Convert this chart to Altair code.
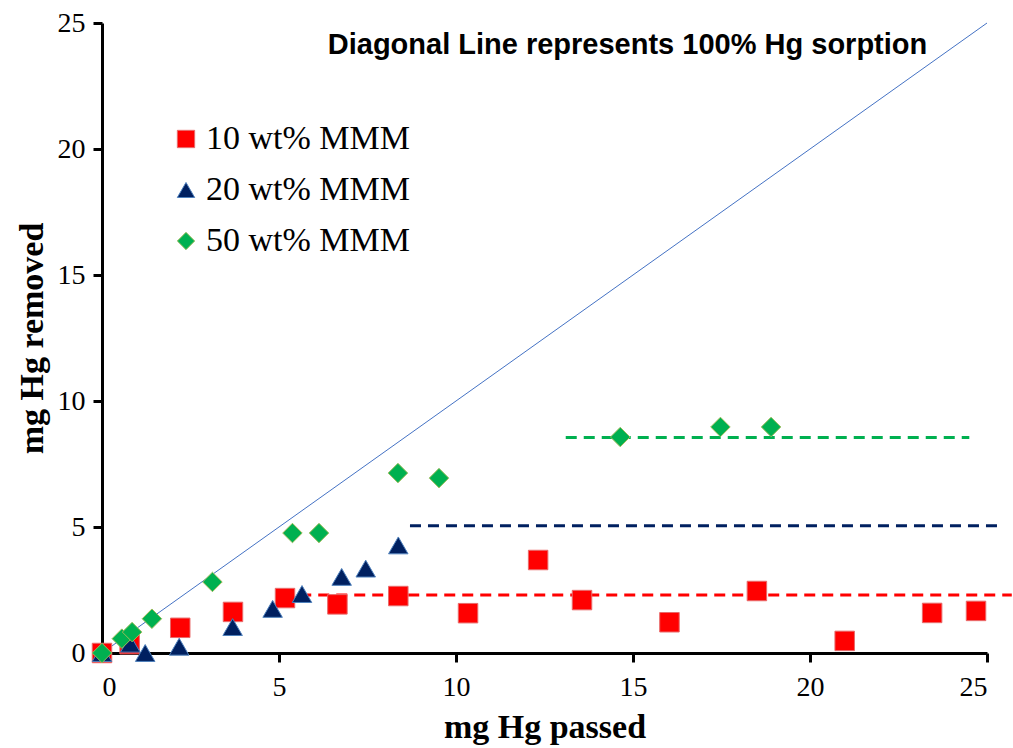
import altair as alt
import pandas as pd

series_names = ["10 wt% MMM", "20 wt% MMM", "50 wt% MMM"]
series_colors = ["#FF0000", "#002060", "#00B050"]
series_strokes = ["#E86B6B", "#4F81BD", "#9BBB59"]
series_shapes = ["square", "triangle-up", "diamond"]

s10_x = [0, 0.78, 2.21, 3.7, 5.17, 6.65, 8.37, 10.34, 12.32, 13.56, 16.03, 18.5, 20.98, 23.45, 24.69]
s10_y = [0, 0.35, 1.0, 1.63, 2.18, 1.93, 2.26, 1.58, 3.69, 2.10, 1.22, 2.46, 0.48, 1.59, 1.67]

s20_x = [0, 0.8, 1.22, 2.18, 3.69, 4.82, 5.65, 6.77, 7.45, 8.37]
s20_y = [0, 0.37, 0.0, 0.25, 1.03, 1.75, 2.34, 3.02, 3.35, 4.27]

s50_x = [0, 0.56, 0.85, 1.41, 3.12, 5.38, 6.13, 8.36, 9.52, 14.64, 17.47, 18.9]
s50_y = [0, 0.57, 0.83, 1.36, 2.82, 4.76, 4.76, 7.14, 6.94, 8.57, 8.97, 8.97]

level_y = [2.3, 5.05, 8.55]
level_x1 = [5.6, 8.7, 13.1]
level_x2 = [25.7, 25.3, 24.5]

diag_x = [0, 25]
diag_y = [0, 25]

tick_values = [0, 5, 10, 15, 20, 25]
note_text = "Diagonal Line represents 100% Hg sorption"

rows = []
for name, xs, ys in zip(series_names, [s10_x, s20_x, s50_x], [s10_y, s20_y, s50_y]):
    for a, b in zip(xs, ys):
        rows.append({"passed": a, "removed": b, "series": name})
pts = pd.DataFrame(rows)

levels = pd.DataFrame({"x1": level_x1, "x2": level_x2, "y": level_y, "series": series_names})
diag = pd.DataFrame({"x": diag_x, "y": diag_y})

xscale = alt.Scale(domain=[0, 25], nice=False)
yscale = alt.Scale(domain=[0, 25], nice=False)

axis_common = dict(
    values=tick_values, grid=False, domainColor="black", domainWidth=3,
    tickColor="black", tickWidth=3, tickSize=9,
    labelFont="Liberation Serif", labelFontSize=28, labelColor="black",
    titleFont="Liberation Serif", titleFontSize=34, titleFontWeight="bold", titleColor="black",
)

diag_line = alt.Chart(diag).mark_line(color="#4472C4", strokeWidth=1).encode(
    x=alt.X("x:Q", scale=xscale, title="mg Hg passed",
            axis=alt.Axis(labelPadding=11, titlePadding=9, **axis_common)),
    y=alt.Y("y:Q", scale=yscale, title="mg Hg removed",
            axis=alt.Axis(labelPadding=8, titlePadding=8, **axis_common)),
)

level_rules = alt.Chart(levels).mark_rule(strokeWidth=3, strokeDash=[11, 7]).encode(
    x="x1:Q", x2="x2:Q", y="y:Q",
    color=alt.Color("series:N", scale=alt.Scale(domain=series_names, range=series_colors), legend=None),
)

points = alt.Chart(pts).mark_point(filled=True, opacity=1, strokeWidth=1).encode(
    x="passed:Q",
    y="removed:Q",
    shape=alt.Shape("series:N", scale=alt.Scale(domain=series_names, range=series_shapes), title=None),
    fill=alt.Fill("series:N", scale=alt.Scale(domain=series_names, range=series_colors), title=None),
    stroke=alt.Stroke("series:N", scale=alt.Scale(domain=series_names, range=series_strokes), title=None),
    size=alt.value(380),
)

chart = alt.layer(diag_line, level_rules, points).resolve_scale(color="independent").properties(
    width=885, height=630,
    autosize=alt.AutoSizeParams(type="none"),
    padding={"left": 102, "top": 23, "right": 26, "bottom": 95},
    title=alt.TitleParams(text=note_text, font="Liberation Sans", fontSize=29, fontWeight="bold",
                          color="black", anchor="middle", frame="group", dx=83, offset=-51),
).configure_view(stroke=None).configure_legend(
    orient="none", legendX=67, legendY=99, padding=0,
    labelFont="Liberation Serif", labelFontSize=34, labelColor="black", labelLimit=0,
    symbolSize=300, labelOffset=3, rowPadding=17, symbolStrokeWidth=1,
)

chart.save("out.html", embed_options={"renderer": "svg", "actions": False})
